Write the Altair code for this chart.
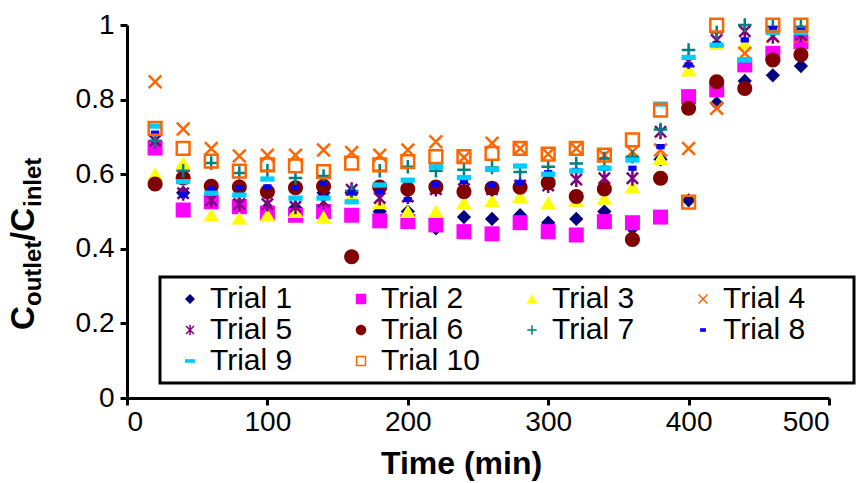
import altair as alt
import pandas as pd

times = [20, 40, 60, 80, 100, 120, 140, 160, 180, 200, 220, 240,
         260, 280, 300, 320, 340, 360, 380, 400, 420, 440, 460, 480]

trial_1 = [0.68, 0.55, 0.53, 0.52, 0.51, 0.51, 0.55, 0.55, 0.50, 0.50, 0.455, 0.485,
           0.48, 0.49, 0.47, 0.48, 0.50, 0.455, 0.64, 0.53, 0.79, 0.85, 0.865, 0.89]
trial_2 = [0.67, 0.504, 0.526, 0.513, 0.496, 0.49, 0.50, 0.49, 0.475, 0.473, 0.464, 0.446,
           0.44, 0.47, 0.446, 0.437, 0.473, 0.47, 0.485, 0.808, 0.826, 0.893, 0.924, 0.955]
trial_3 = [0.60, 0.63, 0.49, 0.482, 0.49, 0.50, 0.485, 0.54, 0.523, 0.50, 0.50, 0.523,
           0.529, 0.54, 0.522, 0.53, 0.535, 0.566, 0.642, 0.879, 0.95, 0.95, 0.99, 0.99]
trial_4 = [0.848, 0.721, 0.669, 0.649, 0.651, 0.651, 0.665, 0.658, 0.651, 0.665, 0.687, 0.645,
           0.683, 0.669, 0.654, 0.669, 0.651, 0.66, 0.665, 0.669, 0.777, 0.924, 0.97, 0.97]
trial_5 = [0.69, 0.549, 0.531, 0.52, 0.52, 0.513, 0.527, 0.558, 0.536, 0.54, 0.56, 0.56,
           0.56, 0.57, 0.57, 0.586, 0.589, 0.589, 0.714, 0.902, 0.96, 0.983, 0.97, 0.973]
trial_6 = [0.574, 0.59, 0.568, 0.566, 0.553, 0.564, 0.568, 0.379, 0.566, 0.56, 0.566, 0.553,
           0.562, 0.565, 0.577, 0.54, 0.56, 0.425, 0.589, 0.777, 0.848, 0.83, 0.906, 0.92]
trial_7 = [0.69, 0.609, 0.63, 0.603, 0.609, 0.59, 0.595, 0.555, 0.609, 0.62, 0.609, 0.612,
           0.618, 0.606, 0.62, 0.629, 0.642, 0.647, 0.72, 0.933, 0.98, 1.0, 0.995, 0.995]
trial_8 = [0.71, 0.544, 0.56, 0.564, 0.566, 0.564, 0.575, 0.55, 0.553, 0.532, 0.573, 0.58,
           0.571, 0.578, 0.604, 0.61, 0.616, 0.616, 0.674, 0.893, 0.95, 0.96, 0.99, 0.985]
trial_9 = [0.729, 0.58, 0.549, 0.544, 0.587, 0.536, 0.536, 0.526, 0.571, 0.584, 0.62, 0.591,
           0.613, 0.622, 0.60, 0.609, 0.616, 0.638, 0.788, 0.913, 0.946, 0.906, 0.98, 0.98]
trial_10 = [0.723, 0.669, 0.635, 0.608, 0.625, 0.622, 0.607, 0.63, 0.625, 0.634, 0.647, 0.647,
            0.656, 0.669, 0.654, 0.669, 0.651, 0.692, 0.772, 0.525, 1.0, None, 1.0, 1.0]

trials = ["Trial 1", "Trial 2", "Trial 3", "Trial 4", "Trial 5",
          "Trial 6", "Trial 7", "Trial 8", "Trial 9", "Trial 10"]
series = [trial_1, trial_2, trial_3, trial_4, trial_5,
          trial_6, trial_7, trial_8, trial_9, trial_10]

shapes = [
    "M0,-0.95L0.95,0L0,0.95L-0.95,0Z",
    "M-1,-1H1V1H-1Z",
    "M0,-0.9L1.05,0.85H-1.05Z",
    "M-0.85,-0.85L0.85,0.85M-0.85,0.85L0.85,-0.85",
    "M-0.75,-0.75L0.75,0.75M-0.75,0.75L0.75,-0.75M0,-1V1",
    "M1,0A1,1,0,1,1,-1,0A1,1,0,1,1,1,0Z",
    "M-0.9,0H0.9M0,-0.9V0.9",
    "M-0.55,-0.35H0.55V0.35H-0.55Z",
    "M-0.95,-0.35H0.95V0.35H-0.95Z",
    "M-0.85,-0.85H0.85V0.85H-0.85Z",
]
fills = ["#000080", "#FF00FF", "#FFFF00", "transparent", "transparent",
         "#800000", "transparent", "#0000FF", "#00CCFF", "transparent"]
strokes = ["transparent", "transparent", "transparent", "#FF6600", "#800080",
           "transparent", "#008080", "transparent", "transparent", "#FF6600"]

rows = []
for name, vals in zip(trials, series):
    for t, v in zip(times, vals):
        if v is not None:
            rows.append({"Trial": name, "Time": t, "Value": v})
df = pd.DataFrame(rows)

FONT = "Liberation Sans"

# last-column labels get invisible trailing room so the legend box reaches the right edge
label_expr = (
    "indexof(['Trial 4', 'Trial 8'], datum.label) >= 0 ? "
    "datum.label + '     \u200b' : datum.label"
)

legend = alt.Legend(
    orient="none", legendX=33, legendY=252, columns=4, direction="horizontal",
    title=None, fillColor="white",
    padding=7, symbolOffset=8, columnPadding=4, rowPadding=1,
    gridAlign="all", labelFont=FONT, labelFontSize=30, labelColor="black",
    labelLimit=400, labelOffset=5, symbolSize=110, symbolStrokeWidth=1.5,
    labelExpr=label_expr,
)

points = alt.Chart(df).mark_point(size=225, strokeWidth=2.5, opacity=1).encode(
    x=alt.X("Time:Q", scale=alt.Scale(domain=[0, 500], nice=False),
            axis=alt.Axis(values=[0, 100, 200, 300, 400, 500], title="Time (min)",
                          titleFontSize=32, titleFontWeight="bold", titleFont=FONT,
                          titleColor="black", titlePadding=12, titleX=334,
                          labelPadding=3)),
    y=alt.Y("Value:Q", scale=alt.Scale(domain=[0, 1], nice=False),
            axis=alt.Axis(values=[0, 0.2, 0.4, 0.6, 0.8, 1], format="~g", title=None,
                          labelPadding=6)),
    shape=alt.Shape("Trial:N", scale=alt.Scale(domain=trials, range=shapes), legend=legend),
    fill=alt.Fill("Trial:N", scale=alt.Scale(domain=trials, range=fills), legend=legend),
    stroke=alt.Stroke("Trial:N", scale=alt.Scale(domain=trials, range=strokes), legend=legend),
)

one = pd.DataFrame({"k": [0]})


def ytext(txt, x, y, size):
    return alt.Chart(one).mark_text(
        angle=270, align="left", baseline="alphabetic", font=FONT,
        fontWeight="bold", fontSize=size, color="black",
    ).encode(x=alt.value(x), y=alt.value(y), text=alt.value(txt))


ytitle = [
    ytext("C", -93, 305, 33),
    ytext("outlet", -86, 281, 24),
    ytext("/C", -93, 216, 33),
    ytext("inlet", -86, 182, 24),
]

chart = alt.layer(points, *ytitle).properties(
    width=702, height=373,
    autosize=alt.AutoSizeParams(type="none"),
    padding={"left": 127, "top": 25, "right": 33, "bottom": 85},
).configure_view(stroke=None).configure_axis(
    domainColor="black", domainWidth=3, tickColor="black", tickWidth=3, tickSize=7,
    grid=False, labelFont=FONT, labelFontSize=28, labelColor="black",
).configure_legend(strokeColor="black", strokeWidth=3)

chart.save("out.html", embed_options={"renderer": "svg", "actions": False})
